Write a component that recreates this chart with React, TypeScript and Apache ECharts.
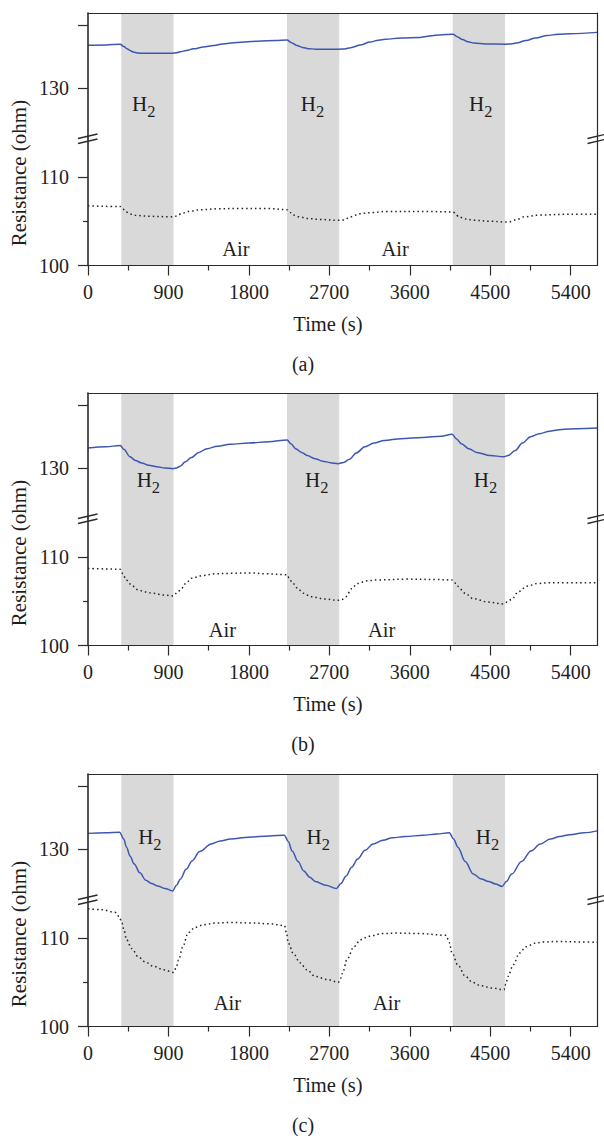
import React, { useEffect, useRef } from "react";
import * as echarts from "echarts";

// ---------- axis ticks / ranges ----------
const xMajorTicks = [0, 900, 1800, 2700, 3600, 4500, 5400];
const xMinorTicks = [450, 1350, 2250, 3150, 4050, 4950];
const upperTicks = [130, 140];
const upperLabels = [130];
const lowerTicks = [100, 110];
const lowerMinorTicks = [105];
const timeRange = [0, 5700];
const upperRange = [122, 142];
const lowerRange = [100, 114.4];

// H2 exposure periods (s)
const h2Bands = [
  [372, 957],
  [2226, 2811],
  [4081, 4666],
];

const panelLetters = ["(a)", "(b)", "(c)"];

// ---------- panel (a) ----------
const aBlueT = [0, 200, 361, 400, 436, 470, 510, 550, 585, 750, 939, 990, 1032, 1100, 1181, 1290, 1405, 1530, 1666, 1900, 2100, 2228, 2270, 2336, 2400, 2465, 2550, 2810, 2870, 2940, 3050, 3155, 3250, 3327, 3500, 3715, 3850, 3930, 4086, 4130, 4189, 4250, 4318, 4450, 4668, 4730, 4793, 4900, 5008, 5137, 5260, 5396, 5700];
const aBlueR = [136.85, 136.9, 137.0, 136.65, 136.3, 136.0, 135.75, 135.62, 135.57, 135.55, 135.57, 135.65, 135.8, 136.0, 136.27, 136.55, 136.8, 137.1, 137.3, 137.5, 137.6, 137.7, 137.3, 136.8, 136.5, 136.3, 136.22, 136.2, 136.25, 136.45, 136.9, 137.35, 137.65, 137.8, 138.0, 138.1, 138.35, 138.5, 138.6, 138.2, 137.75, 137.4, 137.2, 137.05, 137.0, 137.05, 137.2, 137.6, 138.0, 138.4, 138.6, 138.7, 138.9];
const aDotT = [0, 361, 390, 418, 473, 548, 700, 920, 957, 995, 1051, 1144, 1256, 1450, 1703, 2000, 2228, 2260, 2293, 2380, 2465, 2600, 2810, 2860, 2940, 3000, 3069, 3200, 3327, 3800, 4086, 4115, 4146, 4230, 4318, 4500, 4680, 4720, 4800, 4879, 5051, 5400, 5700];
const aDotR = [106.75, 106.65, 106.4, 106.1, 105.8, 105.65, 105.55, 105.5, 105.5, 105.6, 105.9, 106.15, 106.3, 106.4, 106.45, 106.45, 106.3, 106.0, 105.7, 105.45, 105.3, 105.2, 105.1, 105.15, 105.5, 105.7, 105.9, 106.0, 106.1, 106.1, 106.05, 105.8, 105.5, 105.25, 105.1, 105.0, 104.9, 104.95, 105.2, 105.5, 105.7, 105.8, 105.8];
const aH2Labels = [[612, 127.4], [2500, 127.4], [4383, 127.4]];
const aAirLabels = [[1655, 101.83], [3435, 101.83]];

// ---------- panel (b) ----------
const bBlueT = [0, 200, 362, 400, 470, 530, 600, 680, 771, 860, 952, 990, 1030, 1090, 1159, 1240, 1332, 1450, 1590, 1800, 2021, 2228, 2270, 2323, 2390, 2452, 2540, 2625, 2710, 2797, 2860, 2926, 3000, 3099, 3200, 3314, 3500, 3745, 3950, 4073, 4120, 4176, 4260, 4349, 4500, 4651, 4700, 4780, 4860, 4952, 5050, 5168, 5300, 5469, 5700];
const bBlueR = [133.2, 133.4, 133.6, 133.0, 131.8, 131.2, 130.8, 130.45, 130.2, 130.0, 129.9, 130.0, 130.3, 131.0, 131.7, 132.5, 133.1, 133.5, 133.8, 134.0, 134.2, 134.5, 133.9, 133.1, 132.5, 132.0, 131.5, 131.1, 130.85, 130.7, 130.9, 131.4, 132.4, 133.4, 134.0, 134.4, 134.7, 134.9, 135.1, 135.4, 134.7, 133.9, 133.1, 132.5, 132.0, 131.8, 132.0, 132.8, 134.0, 135.0, 135.5, 135.9, 136.15, 136.3, 136.4];
const bDotT = [0, 200, 362, 390, 427, 490, 556, 640, 728, 850, 952, 1000, 1052, 1100, 1159, 1280, 1418, 1600, 1806, 2000, 2228, 2250, 2280, 2340, 2409, 2500, 2650, 2797, 2840, 2883, 2950, 3013, 3120, 3228, 3573, 3900, 4073, 4100, 4133, 4220, 4306, 4480, 4651, 4690, 4737, 4820, 4909, 5030, 5168, 5700];
const bDotR = [108.7, 108.65, 108.6, 108.1, 107.4, 106.8, 106.3, 106.05, 105.9, 105.7, 105.6, 106.0, 106.5, 107.1, 107.6, 107.9, 108.1, 108.15, 108.2, 108.1, 108.0, 107.6, 107.2, 106.5, 105.9, 105.5, 105.25, 105.1, 105.2, 105.5, 106.4, 107.0, 107.3, 107.4, 107.5, 107.45, 107.4, 107.1, 106.7, 105.9, 105.3, 104.9, 104.7, 104.9, 105.2, 106.1, 106.7, 107.0, 107.1, 107.1];
const bH2Labels = [[664, 128.1], [2547, 128.1], [4435, 128.1]];
const bAirLabels = [[1504, 101.7], [3284, 101.7]];

// ---------- panel (c) ----------
const cBlueT = [0, 200, 353, 400, 431, 470, 517, 580, 647, 710, 776, 860, 948, 990, 1034, 1100, 1164, 1250, 1379, 1480, 1595, 1800, 2026, 2198, 2240, 2284, 2350, 2414, 2480, 2543, 2660, 2780, 2830, 2888, 2950, 3017, 3100, 3189, 3300, 3405, 3550, 3750, 3900, 4043, 4090, 4138, 4220, 4310, 4400, 4482, 4560, 4633, 4680, 4741, 4850, 4957, 5060, 5172, 5280, 5388, 5550, 5700];
const cBlueR = [132.5, 132.6, 132.7, 131.6, 130.3, 128.9, 127.6, 126.2, 125.0, 124.5, 124.1, 123.7, 123.3, 124.2, 125.2, 126.8, 128.1, 129.6, 130.8, 131.3, 131.6, 131.9, 132.1, 132.2, 131.2, 129.7, 128.0, 126.5, 125.5, 124.8, 124.2, 123.7, 124.5, 125.7, 127.1, 128.4, 129.8, 130.8, 131.4, 131.8, 132.0, 132.2, 132.4, 132.6, 131.6, 130.3, 128.0, 126.0, 125.2, 124.8, 124.4, 124.0, 124.8, 126.0, 128.0, 129.7, 130.8, 131.6, 132.0, 132.3, 132.6, 132.9];
const cDotT = [0, 150, 302, 350, 379, 405, 431, 490, 560, 640, 733, 850, 957, 985, 1013, 1060, 1121, 1200, 1293, 1450, 1595, 1800, 2026, 2198, 2220, 2241, 2300, 2371, 2450, 2543, 2680, 2802, 2825, 2845, 2900, 2974, 3050, 3146, 3300, 3448, 3700, 4008, 4040, 4073, 4140, 4224, 4300, 4396, 4520, 4654, 4675, 4697, 4760, 4826, 4900, 4998, 5100, 5256, 5500, 5700];
const cDotR = [113.3, 113.2, 112.9, 112.4, 111.7, 110.8, 109.8, 108.8, 107.9, 107.3, 106.8, 106.4, 106.1, 106.6, 107.5, 109.0, 110.6, 111.2, 111.5, 111.7, 111.75, 111.7, 111.6, 111.4, 110.6, 109.4, 108.2, 107.2, 106.4, 105.65, 105.3, 105.0, 105.4, 106.0, 107.6, 109.0, 109.8, 110.2, 110.5, 110.55, 110.5, 110.3, 109.5, 108.3, 106.9, 105.65, 105.0, 104.6, 104.35, 104.15, 104.8, 105.65, 107.0, 108.3, 109.0, 109.4, 109.55, 109.6, 109.55, 109.5];
const cH2Labels = [[681, 131.9], [2565, 131.9], [4457, 131.9]];
const cAirLabels = [[1560, 102.7], [3340, 102.7]];

const panels = [
  { blueT: aBlueT, blueR: aBlueR, dotT: aDotT, dotR: aDotR, h2: aH2Labels, air: aAirLabels },
  { blueT: bBlueT, blueR: bBlueR, dotT: bDotT, dotR: bDotR, h2: bH2Labels, air: bAirLabels },
  { blueT: cBlueT, blueR: cBlueR, dotT: cDotT, dotR: cDotR, h2: cH2Labels, air: cAirLabels },
];

// ---------- styling / layout ----------
const FONT = "'Liberation Serif', 'Times New Roman', serif";
const AX = "#2b2b2b";
const TXT = "#1e1e1e";
const BLUE = "#3c57b2";
const BAND = "#d9d9d9";
const PANEL_OFF = [0, 380, 761];
const GL = 88;
const GW = 509.5;
const UP_TOP = 13;
const UP_H = 125;
const LO_H = 127.5;

const zip = (t: number[], r: number[]) => t.map((v, i) => [v, r[i]]);

function buildOption() {
  const grid: any[] = [];
  const xAxis: any[] = [];
  const yAxis: any[] = [];
  const series: any[] = [];
  const bandData = h2Bands.map(([s, e]) => [{ xAxis: s }, { xAxis: e }]);
  const line = (w: number) => ({ show: true, onZero: false, lineStyle: { color: AX, width: w } });
  const noTick = { show: false };
  const noLabel = { show: false };
  const noSplit = { show: false };
  const labelBase = { fontFamily: FONT, fontSize: 20, color: TXT, formatter: (v: number) => String(v) };

  panels.forEach((p, i) => {
    const off = PANEL_OFF[i];
    const gU = 2 * i;
    const gL = 2 * i + 1;
    grid.push({ left: GL, width: GW, top: off + UP_TOP, height: UP_H, outerBoundsMode: "none" });
    grid.push({ left: GL, width: GW, top: off + UP_TOP + UP_H, height: LO_H, outerBoundsMode: "none" });

    // x axes
    xAxis.push({ type: "value", gridIndex: gU, position: "top", min: timeRange[0], max: timeRange[1], axisLine: line(1.2), axisTick: noTick, axisLabel: noLabel, splitLine: noSplit, z: 10 });
    xAxis.push({
      type: "value", gridIndex: gL, position: "bottom", min: timeRange[0], max: timeRange[1],
      axisLine: line(1.2),
      axisTick: { show: true, inside: false, length: 10, customValues: xMajorTicks, lineStyle: { color: AX, width: 1.2 } },
      axisLabel: { ...labelBase, customValues: xMajorTicks, margin: 16.5 },
      splitLine: noSplit, z: 10,
    });
    xAxis.push({
      type: "value", gridIndex: gL, position: "bottom", min: timeRange[0], max: timeRange[1],
      axisLine: { show: false, onZero: false },
      axisTick: { show: true, inside: false, length: 5, customValues: xMinorTicks, lineStyle: { color: AX, width: 1.2 } },
      axisLabel: noLabel, splitLine: noSplit, z: 10,
    });

    // y axes
    yAxis.push({
      type: "value", gridIndex: gU, position: "left", min: upperRange[0], max: upperRange[1],
      axisLine: line(1.6),
      axisTick: { show: true, inside: false, length: 10, customValues: upperTicks, lineStyle: { color: AX, width: 1.2 } },
      axisLabel: { ...labelBase, customValues: upperLabels, margin: 19 },
      splitLine: noSplit, z: 10,
    });
    yAxis.push({ type: "value", gridIndex: gU, position: "right", min: upperRange[0], max: upperRange[1], axisLine: line(1.2), axisTick: noTick, axisLabel: noLabel, splitLine: noSplit, z: 10 });
    yAxis.push({
      type: "value", gridIndex: gL, position: "left", min: lowerRange[0], max: lowerRange[1],
      axisLine: line(1.6),
      axisTick: { show: true, inside: false, length: 10, customValues: lowerTicks, lineStyle: { color: AX, width: 1.2 } },
      axisLabel: { ...labelBase, customValues: lowerTicks, margin: 19 },
      splitLine: noSplit, z: 10,
    });
    yAxis.push({
      type: "value", gridIndex: gL, position: "left", min: lowerRange[0], max: lowerRange[1],
      axisLine: { show: false, onZero: false },
      axisTick: { show: true, inside: false, length: 5, customValues: lowerMinorTicks, lineStyle: { color: AX, width: 1.2 } },
      axisLabel: noLabel, splitLine: noSplit, z: 10,
    });
    yAxis.push({ type: "value", gridIndex: gL, position: "right", min: lowerRange[0], max: lowerRange[1], axisLine: line(1.2), axisTick: noTick, axisLabel: noLabel, splitLine: noSplit, z: 10 });

    series.push({
      type: "line", xAxisIndex: 3 * i, yAxisIndex: 5 * i, data: zip(p.blueT, p.blueR),
      showSymbol: false, smooth: 0.35, smoothMonotone: "x", silent: true, z: 3,
      lineStyle: { color: BLUE, width: 1.5 },
      markArea: { silent: true, itemStyle: { color: BAND }, data: bandData },
    });
    series.push({
      type: "line", xAxisIndex: 3 * i + 1, yAxisIndex: 5 * i + 2, data: zip(p.dotT, p.dotR),
      showSymbol: false, smooth: 0.35, smoothMonotone: "x", silent: true, z: 3,
      lineStyle: { color: "#222", width: 1.5, type: [1.5, 3] },
      markArea: { silent: true, itemStyle: { color: BAND }, data: bandData },
    });
  });

  return { animation: false, backgroundColor: "#ffffff", grid, xAxis, yAxis, series };
}

function txt(x: number, y: number, text: string, size: number, align: string, extra: any = {}) {
  return {
    type: "text", x, y, z: 50, silent: true, ...extra,
    style: { text, fontSize: size, fontFamily: FONT, fill: TXT, align, textAlign: align, verticalAlign: "middle", textVerticalAlign: "middle" },
  };
}

function buildGraphic(chart: any) {
  const g: any[] = [];
  panels.forEach((p, i) => {
    const off = PANEL_OFF[i];
    p.h2.forEach(([t, v]) => {
      const [px, py] = chart.convertToPixel({ xAxisIndex: 3 * i, yAxisIndex: 5 * i }, [t, v]);
      g.push(txt(px + 4.5, py, "H", 21, "right"));
      g.push(txt(px + 4.5, py + 7.5, "2", 16.5, "left"));
    });
    p.air.forEach(([t, v]) => {
      const [px, py] = chart.convertToPixel({ xAxisIndex: 3 * i + 1, yAxisIndex: 5 * i + 2 }, [t, v]);
      g.push(txt(px, py, "Air", 20.5, "center"));
    });
    g.push(txt(328, off + 324, "Time (s)", 20.5, "center"));
    g.push(txt(303, off + 364, panelLetters[i], 20, "center"));
    g.push(txt(19, off + 173, "Resistance (ohm)", 21, "center", { rotation: Math.PI / 2 }));
    // axis-break marks
    const by = off + UP_TOP + UP_H;
    const marks = [
      [GL - 10, GL + 9.5],
      [GL + GW - 10, GL + GW + 9.5],
    ];
    marks.forEach(([x1, x2]) => {
      [0.5, 5.5].forEach((d) => {
        g.push({ type: "line", z: 60, silent: true, shape: { x1, y1: by + d, x2, y2: by + d - 4.5 }, style: { stroke: AX, lineWidth: 1.3 } });
      });
    });
  });
  return g;
}

export default function App() {
  const ref = useRef<HTMLDivElement>(null);
  useEffect(() => {
    if (!ref.current) return;
    const chart = echarts.init(ref.current, undefined, { renderer: "svg" });
    chart.setOption(buildOption() as any);
    chart.setOption({ graphic: buildGraphic(chart) } as any);
    return () => chart.dispose();
  }, []);
  return <div ref={ref} style={{ position: "absolute", left: 0, top: 0, width: 604, height: 1136, background: "#fff" }} />;
}
